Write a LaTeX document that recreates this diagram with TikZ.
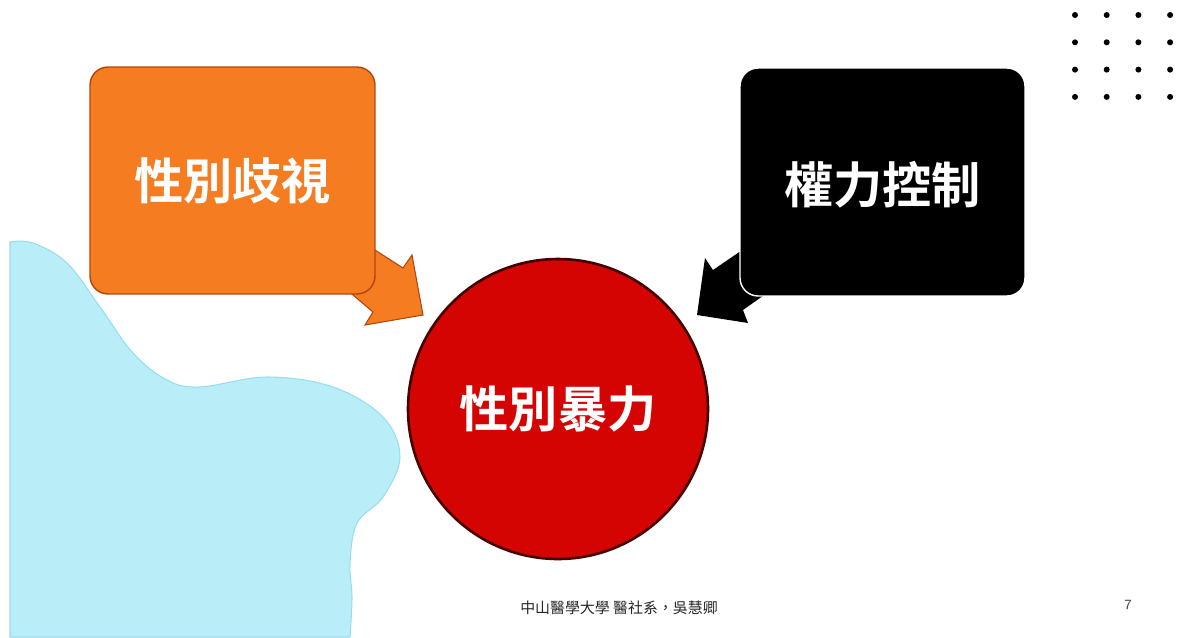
\documentclass[tikz,border=0pt]{standalone}
\usepackage{fontspec}
\newfontfamily\cjk{Noto Sans CJK TC}[BoldFont={Noto Sans CJK TC Bold}]
\usetikzlibrary{positioning}

\definecolor{boxorange}{RGB}{245,124,32}
\definecolor{orangeedge}{RGB}{176,70,12}
\definecolor{circlered}{RGB}{212,4,2}
\definecolor{circleedge}{RGB}{70,0,0}
\definecolor{blobblue}{RGB}{185,238,248}
\definecolor{blobedge}{RGB}{150,222,238}

\begin{document}
\begin{tikzpicture}[
    x=0.02cm, y=-0.02cm,
    font=\cjk,
    % Styles
    obox/.style={draw=orangeedge, line width=0.8pt, fill=boxorange, rounded corners=0.36cm, minimum width=5.7cm, minimum height=4.54cm, inner sep=0pt},
    kbox/.style={draw=white, line width=0.8pt, fill=black, rounded corners=0.36cm, minimum width=5.7cm, minimum height=4.56cm, inner sep=0pt},
    core/.style={circle, draw=circleedge, line width=1.5pt, fill=circlered, minimum size=6cm, inner sep=0pt},
    big/.style={font=\cjk\bfseries\fontsize{28}{32}\selectfont, text=white, inner sep=0pt},
    dot/.style={circle, fill=black, inner sep=0pt, minimum size=0.12cm},
    small/.style={font=\cjk\fontsize{8.5}{10}\selectfont, text=black!85}
]
    \useasboundingbox (0,0) rectangle (1178,637);

    % --- Background blob ---
    \fill[blobblue, draw=blobedge, line width=0.6pt] plot[smooth, tension=0.6] coordinates {
        (10,242) (33,243) (67,263) (100,307) (133,353) (167,380) (200,387)
        (267,377) (333,387) (383,417) (400,457) (383,497) (357,523) (350,563)
        (352,597) (350,637)} -- (10,637) -- cycle;

    % --- Dots ---
    \foreach \i in {0,...,3}
        \foreach \j in {0,...,3}
            \node[dot] (d\i\j) at (1075+31.7*\i, 15+27.3*\j) {};

    % --- Callout arrows ---
    \fill[boxorange, draw=orangeedge, line width=0.6pt] (347,232) -- (403,268) -- (412,255) -- (423,315)
        -- (365,325) -- (373,312) -- (333,278) -- cycle;
    \fill[black] (751,244) -- (713,270) -- (705,258) -- (697,315) -- (748,323) -- (743,310) -- (777,286) -- cycle;

    % --- Boxes ---
    \node[obox] (disc) at (232.5,180.5) {};
    \node[big] (disctxt) at (disc) {性別歧視};

    \node[kbox] (power) at (882.5,182) {};
    \node[big] (powertxt) at ([yshift=-0.06cm]power.center) {權力控制};

    % --- Centre ---
    \node[core] (viol) at (558,409) {};
    \node[big] (violtxt) at (viol) {性別暴力};

    % Footer
    \node[small] (foot) at (619,608) {中山醫學大學 醫社系，吳慧卿};
    \node[small, font=\sffamily\fontsize{8}{10}\selectfont, text=black!70] (page) at (1128,605) {7};

\end{tikzpicture}
\end{document}
